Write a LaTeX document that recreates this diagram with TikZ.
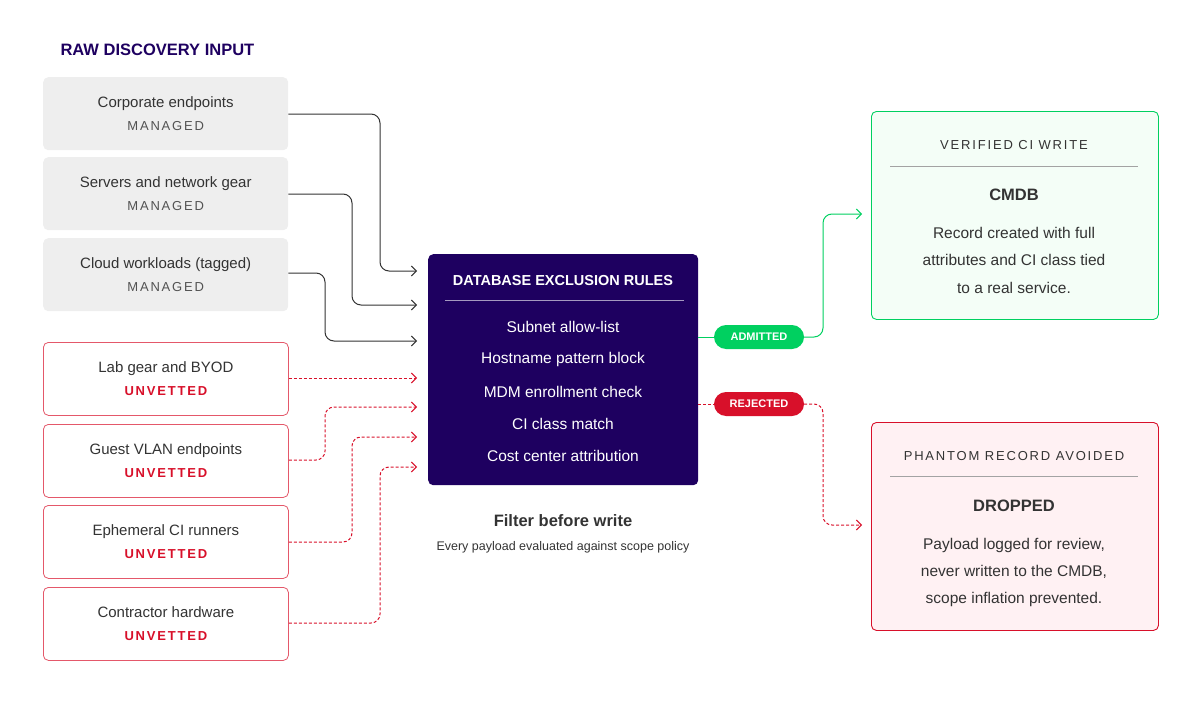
\documentclass[tikz,border=0pt]{standalone}
\usepackage{fontspec}
\setmainfont{Liberation Sans}
\newfontfamily\spaced[LetterSpace=14]{Liberation Sans}
\newcommand\tagf{\spaced\fontsize{13}{13}\selectfont}
\usetikzlibrary{arrows.meta}
\definecolor{ink}{HTML}{333333}
\definecolor{navy}{HTML}{1E0060}
\definecolor{grayfill}{HTML}{EEEEEE}
\definecolor{rd}{HTML}{D8102A}
\definecolor{gr}{HTML}{00D060}
\definecolor{rdfill}{HTML}{FFF1F3}
\definecolor{grfill}{HTML}{F4FEF7}
\begin{document}
\begin{tikzpicture}[x=1pt,y=-1pt,
 srcg/.style={draw=none,fill=grayfill,rounded corners=5,minimum width=245,minimum height=73,anchor=north west,align=center,font=\fontsize{15}{26}\selectfont,text=ink},
 srcr/.style={draw=rd!70,fill=white,line width=0.8,rounded corners=5,minimum width=245,minimum height=73,anchor=north west,align=center,font=\fontsize{15}{26}\selectfont,text=ink},
 gline/.style={draw=ink,line width=1,rounded corners=9,-{Straight Barb[length=5,width=10]}},
 rline/.style={draw=rd,line width=1,dashed,dash pattern=on 3pt off 2pt,rounded corners=9,-{Straight Barb[length=5,width=10]}},
 pill/.style={rounded corners=12,minimum width=90,minimum height=24,text=white,font=\bfseries\fontsize{11}{11}\selectfont},
 outbox/.style={rounded corners=5,line width=0.9,minimum width=287,minimum height=208,anchor=north west},
 body/.style={font=\fontsize{15.5}{15.5}\selectfont,text=ink}]
\useasboundingbox (0,0) rectangle (1200,701);
\node[anchor=west,font=\bfseries\fontsize{16.5}{16.5}\selectfont,text=navy] (title) at (57,50) {RAW DISCOVERY INPUT};
\node[srcg] (g1) at (43,77) {Corporate endpoints\\[-3pt]{\tagf\color{ink!85}MANAGED}};
\node[srcg] (g2) at (43,157) {Servers and network gear\\[-3pt]{\tagf\color{ink!85}MANAGED}};
\node[srcg] (g3) at (43,238) {Cloud workloads (tagged)\\[-3pt]{\tagf\color{ink!85}MANAGED}};
\node[srcr] (r1) at (43,342) {Lab gear and BYOD\\[-3pt]{\tagf\bfseries\color{rd}UNVETTED}};
\node[srcr] (r2) at (43,424) {Guest VLAN endpoints\\[-3pt]{\tagf\bfseries\color{rd}UNVETTED}};
\node[srcr] (r3) at (43,505) {Ephemeral CI runners\\[-3pt]{\tagf\bfseries\color{rd}UNVETTED}};
\node[srcr] (r4) at (43,587) {Contractor hardware\\[-3pt]{\tagf\bfseries\color{rd}UNVETTED}};
% central
\node[fill=navy,rounded corners=5,minimum width=270,minimum height=231,anchor=north west] (rules) at (428,254) {};
\node[text=white,font=\bfseries\fontsize{14.5}{14.5}\selectfont] (rt) at (563,281) {DATABASE EXCLUSION RULES};
\draw[white!60!navy,line width=0.8] (445,300) -- (684,300);
\foreach \t/\yy [count=\i] in {Subnet allow-list/327,Hostname pattern block/359,MDM enrollment check/392,CI class match/424,Cost center attribution/456}
  \node[text=white,font=\fontsize{15.5}{15.5}\selectfont] (ri\i) at (563,\yy) {\t};
\node[font=\bfseries\fontsize{16.5}{16.5}\selectfont,text=ink] (cap) at (563,521) {Filter before write};
\node[font=\fontsize{12.5}{12.5}\selectfont,text=ink] (cap2) at (563,547) {Every payload evaluated against scope policy};
% inputs
\coordinate (e1) at (417,271); \coordinate (e2) at (417,305); \coordinate (e3) at (417,341);
\coordinate (e4) at (417,378); \coordinate (e5) at (417,407); \coordinate (e6) at (417,437); \coordinate (e7) at (417,467);
\draw[gline] (g1.east|-0,114) -| (380,200) |- (e1);
\draw[gline] (g2.east|-0,194) -| (352,250) |- (e2);
\draw[gline] (g3.east|-0,273) -| (325,300) |- (e3);
\draw[rline] (r1.east|-0,378) -- (e4);
\draw[rline] (r2.east|-0,460) -| (325,430) |- (e5);
\draw[rline] (r3.east|-0,542) -| (352,480) |- (e6);
\draw[rline] (r4.east|-0,623) -| (380,540) |- (e7);
% outputs
\node[outbox,draw=gr,fill=grfill] (ok) at (871,111) {};
\node[outbox,draw=rd,fill=rdfill] (no) at (871,422) {};
\node[pill,fill=gr] (adm) at (759,337) {ADMITTED};
\node[pill,fill=rd] (rej) at (759,404) {REJECTED};
\draw[gr,line width=1] (rules.east|-adm) -- (adm.west);
\draw[rd,line width=1,dash pattern=on 3pt off 2pt] (rules.east|-rej) -- (rej.west);
\coordinate (o1) at (862,214); \coordinate (o2) at (862,525);
\draw[gr,line width=1,rounded corners=9,-{Straight Barb[length=5,width=10]}] (adm.east) -| (823,270) |- (o1);
\draw[rline] (rej.east) -| (823,470) |- (o2);
% green content
\node[font=\spaced\fontsize{13}{13}\selectfont,text=ink] (okh) at (1014,145) {VERIFIED CI WRITE};
\draw[ink!45,line width=0.8] (890,166) -- (1138,166);
\node[font=\bfseries\fontsize{16.5}{16.5}\selectfont,text=ink] (okt) at (1014,195) {CMDB};
\node[body] at (1014,233) {Record created with full};
\node[body] at (1014,260) {attributes and CI class tied};
\node[body] at (1014,288) {to a real service.};
\node[font=\spaced\fontsize{13}{13}\selectfont,text=ink] (noh) at (1014,456) {PHANTOM RECORD AVOIDED};
\draw[ink!45,line width=0.8] (890,476) -- (1138,476);
\node[font=\bfseries\fontsize{16.5}{16.5}\selectfont,text=ink] (not) at (1014,506) {DROPPED};
\node[body] at (1014,545) {Payload logged for review,};
\node[body] at (1014,572) {never written to the CMDB,};
\node[body] at (1014,599) {scope inflation prevented.};
\end{tikzpicture}
\end{document}
